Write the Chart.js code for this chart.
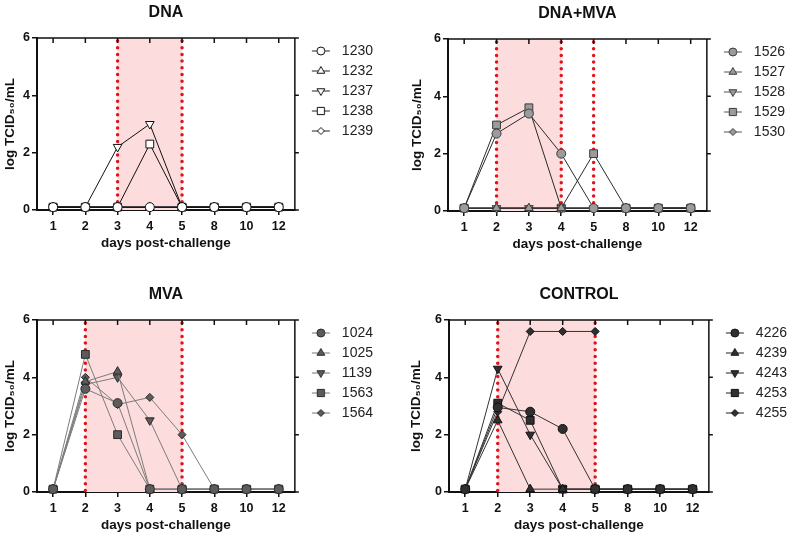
<!DOCTYPE html>
<html>
<head>
<meta charset="utf-8">
<script src="https://cdn.jsdelivr.net/npm/chart.js@4.4.1/dist/chart.umd.min.js"></script>
<style>
  html, body { margin: 0; padding: 0; background: #fff; overflow: hidden; width: 788px; height: 535px; }
  .panel { position: absolute; }
</style>
</head>
<body>
<div class="panel" id="p1"><canvas id="c1"></canvas></div>
<div class="panel" id="p2"><canvas id="c2"></canvas></div>
<div class="panel" id="p3"><canvas id="c3"></canvas></div>
<div class="panel" id="p4"><canvas id="c4"></canvas></div>
<script>
const days = ['1', '2', '3', '4', '5', '8', '10', '12'];
const yTicks = [0, 2, 4, 6];

// DNA group
const dnaIds = ['1230', '1232', '1237', '1238', '1239'];
const dna1230 = [0.1, 0.1, 0.1, 0.1, 0.1, 0.1, 0.1, 0.1];
const dna1232 = [0.1, 0.1, 0.1, 0.1, 0.1, 0.1, 0.1, 0.1];
const dna1237 = [0.1, 0.1, 2.2, 3.0, 0.1, 0.1, 0.1, 0.1];
const dna1238 = [0.1, 0.1, 0.1, 2.3, 0.1, 0.1, 0.1, 0.1];
const dna1239 = [0.1, 0.1, 0.1, 0.1, 0.1, 0.1, 0.1, 0.1];
const dnaShade = ['3', '5'];
const dnaDots = ['3', '5'];

// DNA+MVA group
const boostIds = ['1526', '1527', '1528', '1529', '1530'];
const boost1526 = [0.1, 2.7, 3.4, 2.0, 0.1, 0.1, 0.1, 0.1];
const boost1527 = [0.1, 0.1, 0.1, 0.1, 0.1, 0.1, 0.1, 0.1];
const boost1528 = [0.1, 0.1, 0.1, 0.1, 0.1, 0.1, 0.1, 0.1];
const boost1529 = [0.1, 3.0, 3.6, 0.1, 2.0, 0.1, 0.1, 0.1];
const boost1530 = [0.1, 0.1, 0.1, 0.1, 0.1, 0.1, 0.1, 0.1];
const boostShade = ['2', '4'];
const boostDots = ['2', '4', '5'];

// MVA group
const mvaIds = ['1024', '1025', '1139', '1563', '1564'];
const mva1024 = [0.1, 3.6, 3.1, 0.1, 0.1, 0.1, 0.1, 0.1];
const mva1025 = [0.1, 3.85, 4.2, 0.1, 0.1, 0.1, 0.1, 0.1];
const mva1139 = [0.1, 3.75, 4.0, 2.5, 0.1, 0.1, 0.1, 0.1];
const mva1563 = [0.1, 4.8, 2.0, 0.1, 0.1, 0.1, 0.1, 0.1];
const mva1564 = [0.1, 4.0, 3.05, 3.3, 2.0, 0.1, 0.1, 0.1];
const mvaShade = ['2', '5'];
const mvaDots = ['2', '5'];

// CONTROL group
const ctrlIds = ['4226', '4239', '4243', '4253', '4255'];
const ctrl4226 = [0.1, 2.95, 2.8, 2.2, 0.1, 0.1, 0.1, 0.1];
const ctrl4239 = [0.1, 2.5, 0.1, 0.1, 0.1, 0.1, 0.1, 0.1];
const ctrl4243 = [0.1, 4.3, 2.0, 0.1, 0.1, 0.1, 0.1, 0.1];
const ctrl4253 = [0.1, 3.1, 2.5, 0.1, 0.1, 0.1, 0.1, 0.1];
const ctrl4255 = [0.1, 2.8, 5.6, 5.6, 5.6, null, null, null];
const ctrlShade = ['2', '5'];
const ctrlDots = ['2', '5'];

const FONT = '"Liberation Sans", Arial, Helvetica, sans-serif';

// marker shapes, same order for every group
const markers = [
  { style: 'circle', radius: 4.5, rotation: 0 },
  { style: 'triangle', radius: 5, rotation: 0 },
  { style: 'triangle', radius: 5, rotation: 180 },
  { style: 'rect', radius: 5.5, rotation: 0 },
  { style: 'rectRot', radius: 4, rotation: 0 }
];

// small legend icon: short line with the marker on it
function legendIcon(m, fill, stroke, line) {
  const c = document.createElement('canvas');
  c.width = 34;
  c.height = 14;
  const g = c.getContext('2d');
  const cx = 20, cy = 7;
  g.strokeStyle = line;
  g.lineWidth = 1;
  g.beginPath();
  g.moveTo(11, cy);
  g.lineTo(29, cy);
  g.stroke();
  g.fillStyle = fill;
  g.strokeStyle = stroke;
  g.beginPath();
  const r = m.radius - 0.5;
  if (m.style === 'circle') {
    g.arc(cx, cy, r, 0, Math.PI * 2);
  } else if (m.style === 'triangle') {
    const dir = m.rotation ? -1 : 1;
    g.moveTo(cx, cy - dir * r);
    g.lineTo(cx + r * 0.866, cy + dir * r * 0.5);
    g.lineTo(cx - r * 0.866, cy + dir * r * 0.5);
    g.closePath();
  } else if (m.style === 'rect') {
    const s = r * 0.72;
    g.rect(cx - s, cy - s, 2 * s, 2 * s);
  } else {
    g.moveTo(cx, cy - r);
    g.lineTo(cx + r, cy);
    g.lineTo(cx, cy + r);
    g.lineTo(cx - r, cy);
    g.closePath();
  }
  g.fill();
  g.stroke();
  return c;
}

function makeDatasets(ids, series, colors) {
  return ids.map((id, i) => ({
    label: id,
    data: series[i],
    borderColor: colors.line,
    borderWidth: 1,
    backgroundColor: colors.fill,
    pointBackgroundColor: colors.fill,
    pointBorderColor: colors.stroke,
    pointBorderWidth: 1,
    pointStyle: markers[i].style,
    pointRotation: markers[i].rotation,
    pointRadius: markers[i].radius,
    pointHoverRadius: markers[i].radius,
    tension: 0,
    spanGaps: false,
    clip: false
  }));
}

// pink window plus red dotted day markers
const shadePlugin = {
  id: 'shade',
  beforeDatasetsDraw(chart, args, opts) {
    const { ctx, chartArea: a } = chart;
    const x = chart.scales.x;
    const x0 = x.getPixelForValue(days.indexOf(opts.from));
    const x1 = x.getPixelForValue(days.indexOf(opts.to));
    ctx.save();
    ctx.fillStyle = '#fcdcdc';
    ctx.fillRect(x0, a.top, x1 - x0, a.bottom - a.top);
    ctx.strokeStyle = '#e3121b';
    ctx.lineWidth = 3.5;
    ctx.lineCap = 'round';
    ctx.setLineDash([0, 6.7]);
    opts.dots.forEach(d => {
      const px = x.getPixelForValue(days.indexOf(d));
      ctx.beginPath();
      ctx.moveTo(px, a.top + 3);
      ctx.lineTo(px, a.bottom);
      ctx.stroke();
    });
    ctx.restore();
  }
};

// top and right sides of the box, with their ticks
const framePlugin = {
  id: 'frame',
  beforeDatasetsDraw(chart) {
    const { ctx, chartArea: a } = chart;
    const x = chart.scales.x, y = chart.scales.y;
    ctx.save();
    ctx.strokeStyle = '#111';
    ctx.lineWidth = 1.5;
    ctx.beginPath();
    ctx.moveTo(a.left, a.top);
    ctx.lineTo(a.right, a.top);
    ctx.lineTo(a.right, a.bottom);
    days.forEach((d, i) => {
      const px = x.getPixelForValue(i);
      ctx.moveTo(px, a.top);
      ctx.lineTo(px, a.top + 5);
    });
    yTicks.forEach(v => {
      const py = y.getPixelForValue(v);
      ctx.moveTo(a.right, py);
      ctx.lineTo(a.right + 4, py);
    });
    ctx.stroke();
    ctx.restore();
  }
};

function drawPanel(p) {
  const box = document.getElementById(p.box);
  box.style.left = p.x + 'px';
  box.style.top = p.y + 'px';
  const canvas = document.getElementById(p.canvas);
  canvas.width = p.w;
  canvas.height = 251;
  canvas.style.width = p.w + 'px';
  canvas.style.height = '251px';

  const icons = markers.map(m => legendIcon(m, p.colors.fill, p.colors.stroke, p.colors.icon));

  new Chart(canvas.getContext('2d'), {
    type: 'line',
    data: {
      labels: days,
      datasets: makeDatasets(p.ids, p.series, p.colors)
    },
    options: {
      responsive: false,
      animation: false,
      events: [],
      layout: { padding: 0 },
      plugins: {
        title: {
          display: true,
          text: p.title,
          fullSize: false,
          color: '#111',
          font: { family: FONT, size: 16, weight: 'bold' },
          padding: { top: 3, bottom: 15.8 }
        },
        legend: {
          position: 'right',
          align: 'start',
          fullSize: false,
          labels: {
            usePointStyle: true,
            pointStyleWidth: 34,
            padding: 6,
            color: '#222',
            font: { family: FONT, size: 14 },
            generateLabels(chart) {
              const items = Chart.defaults.plugins.legend.labels.generateLabels(chart);
              items.forEach(it => {
                it.pointStyle = icons[it.datasetIndex];
                it.rotation = 0;
              });
              return items;
            }
          }
        },
        tooltip: { enabled: false },
        shade: { from: p.shade[0], to: p.shade[1], dots: p.dots }
      },
      scales: {
        x: {
          type: 'category',
          offset: true,
          grid: { drawOnChartArea: false, drawTicks: true, tickLength: 5, color: '#111', lineWidth: 1.5 },
          border: { display: true, color: '#111', width: 2 },
          ticks: { color: '#111', font: { family: FONT, size: 12.5, weight: 'bold' }, padding: 4, maxRotation: 0, autoSkip: false },
          title: {
            display: true,
            text: 'days post-challenge',
            color: '#111',
            font: { family: FONT, size: 13.5, weight: 'bold' },
            padding: { top: 0, bottom: 0 }
          },
          afterFit(s) { s.height = 41; }
        },
        y: {
          min: 0,
          max: 6,
          afterBuildTicks(s) { s.ticks = yTicks.map(v => ({ value: v })); },
          grid: { drawOnChartArea: false, drawTicks: true, tickLength: 5, color: '#111', lineWidth: 1.5 },
          border: { display: true, color: '#111', width: 2 },
          ticks: { color: '#111', font: { family: FONT, size: 12.5, weight: 'bold' }, padding: 2 },
          title: {
            display: true,
            text: 'log TCID₅₀/mL',
            color: '#111',
            font: { family: FONT, size: 13.5, weight: 'bold' },
            padding: { top: p.yPad, bottom: 0 }
          },
          afterFit(s) { s.width = p.yWidth; }
        }
      }
    },
    plugins: [shadePlugin, framePlugin]
  });
}

drawPanel({
  box: 'p1', canvas: 'c1', x: 0, y: 0, w: 383, yWidth: 37, yPad: 2,
  title: 'DNA', ids: dnaIds,
  series: [dna1230, dna1232, dna1237, dna1238, dna1239],
  shade: dnaShade, dots: dnaDots,
  colors: { fill: '#ffffff', stroke: '#111111', line: '#111111', icon: '#222222' }
});

drawPanel({
  box: 'p2', canvas: 'c2', x: 404, y: 1, w: 391, yWidth: 44, yPad: 5,
  title: 'DNA+MVA', ids: boostIds,
  series: [boost1526, boost1527, boost1528, boost1529, boost1530],
  shade: boostShade, dots: boostDots,
  colors: { fill: '#9b9b9b', stroke: '#3a3a3a', line: '#2a2a2a', icon: '#555555' }
});

drawPanel({
  box: 'p3', canvas: 'c3', x: 0, y: 282, w: 383, yWidth: 37, yPad: 2,
  title: 'MVA', ids: mvaIds,
  series: [mva1024, mva1025, mva1139, mva1563, mva1564],
  shade: mvaShade, dots: mvaDots,
  colors: { fill: '#5c5c5c', stroke: '#2a2a2a', line: '#7c7c7c', icon: '#777777' }
});

drawPanel({
  box: 'p4', canvas: 'c4', x: 404, y: 282, w: 393, yWidth: 45, yPad: 4,
  title: 'CONTROL', ids: ctrlIds,
  series: [ctrl4226, ctrl4239, ctrl4243, ctrl4253, ctrl4255],
  shade: ctrlShade, dots: ctrlDots,
  colors: { fill: '#303030', stroke: '#111111', line: '#333333', icon: '#222222' }
});
</script>
</body>
</html>
